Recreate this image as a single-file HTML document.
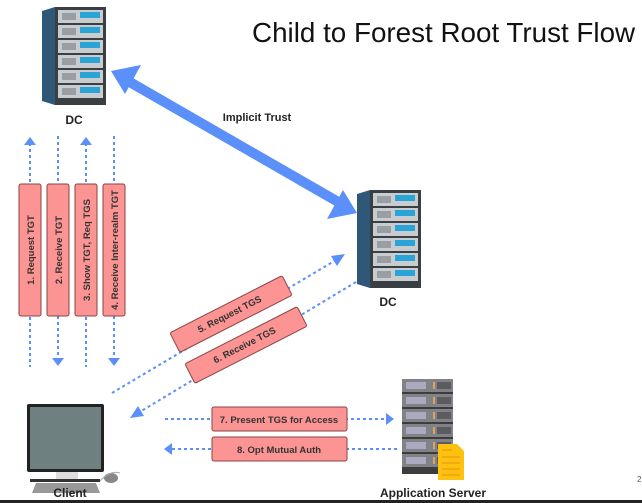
<!DOCTYPE html>
<html><head><meta charset="utf-8"><style>
html,body{margin:0;padding:0;background:#fff;}
svg{display:block;font-family:"Liberation Sans",sans-serif;}
</style></head><body>
<svg width="642" height="503" viewBox="0 0 642 503" xmlns="http://www.w3.org/2000/svg">
<defs>
<g id="rack">
  <polygon points="0,4 13,0 13,98 0,94" fill="#2f5878"/>
  <rect x="13" y="0" width="51" height="98" fill="#3a3f44"/>
  <g id="unit"><rect x="16" y="3" width="45" height="13" fill="#c9cccf"/><rect x="20" y="6" width="14" height="7" fill="#9a9ea2"/><rect x="38" y="5" width="20" height="6" fill="#2aa3d6"/></g>
  <use href="#unit" y="15"/><use href="#unit" y="30"/><use href="#unit" y="45"/><use href="#unit" y="60"/><use href="#unit" y="75"/>
</g>
<g id="appunit"><rect x="0" y="0" width="51" height="13" fill="#808285"/><rect x="4" y="3" width="20" height="7" fill="#a9a9c0"/><rect x="31" y="3" width="2" height="7" fill="#e0a060"/><rect x="35" y="3" width="14" height="7" fill="#5a5c60"/></g>
</defs>

<text x="252" y="42" font-size="27.8" fill="#111">Child to Forest Root Trust Flow</text>

<use href="#rack" x="42" y="7"/>
<text x="74" y="124" font-size="12" font-weight="bold" text-anchor="middle" fill="#222">DC</text>
<use href="#rack" x="357" y="190"/>
<text x="388" y="306" font-size="12" font-weight="bold" text-anchor="middle" fill="#222">DC</text>

<line x1="128" y1="81" x2="340" y2="203" stroke="#5b8ff9" stroke-width="10"/>
<polygon points="111,71 141,65 125,94" fill="#5b8ff9"/>
<polygon points="357,213 327,219 343,190" fill="#5b8ff9"/>
<text x="257" y="121" font-size="11" font-weight="bold" text-anchor="middle" fill="#222">Implicit Trust</text>

<g stroke="#5b8ff9" stroke-width="2" stroke-dasharray="3,3" fill="none">
<line x1="30" y1="143" x2="30" y2="367"/>
<line x1="58" y1="136" x2="58" y2="358"/>
<line x1="86" y1="143" x2="86" y2="367"/>
<line x1="114" y1="136" x2="114" y2="358"/>
</g>
<g fill="#5b8ff9">
<polygon points="30,137 24,145 36,145"/>
<polygon points="86,137 80,145 92,145"/>
<polygon points="58,366 52,358 64,358"/>
<polygon points="114,366 108,358 120,358"/>
</g>
<g fill="#fc9494" stroke="#8a4444" stroke-width="1">
<rect x="19" y="184" width="22" height="132" rx="2"/>
<rect x="47" y="184" width="22" height="132" rx="2"/>
<rect x="75" y="184" width="22" height="132" rx="2"/>
<rect x="103" y="184" width="22" height="132" rx="2"/>
</g>
<g font-size="9.5" font-weight="bold" fill="#333" text-anchor="middle">
<text transform="translate(34,250) rotate(-90)">1. Request TGT</text>
<text transform="translate(62,250) rotate(-90)">2. Receive TGT</text>
<text transform="translate(90,250) rotate(-90)">3. Show TGT, Req TGS</text>
<text transform="translate(118,250) rotate(-90)">4. Receive Inter-realm TGT</text>
</g>

<g stroke="#5b8ff9" stroke-width="2" stroke-dasharray="3,3" fill="none">
<line x1="112" y1="393" x2="336" y2="260"/>
<line x1="356" y1="282" x2="138" y2="413"/>
</g>
<g fill="#5b8ff9">
<polygon points="345,254 331,256 337,266"/>
<polygon points="130,418 144,416 138,406"/>
</g>
<g fill="#fc9494" stroke="#8a4444" stroke-width="1">
<rect x="-63" y="-11" width="126" height="22" rx="2" transform="translate(231,314) rotate(-27)"/>
<rect x="-63" y="-11" width="126" height="22" rx="2" transform="translate(246,345) rotate(-27)"/>
</g>
<g font-size="9.5" font-weight="bold" fill="#333" text-anchor="middle">
<text transform="translate(231,317) rotate(-27)">5. Request TGS</text>
<text transform="translate(246,348) rotate(-27)">6. Receive TGS</text>
</g>

<g stroke="#5b8ff9" stroke-width="2" stroke-dasharray="3,3" fill="none">
<line x1="165" y1="419" x2="386" y2="419"/>
<line x1="172" y1="449" x2="398" y2="449"/>
</g>
<g fill="#5b8ff9">
<polygon points="394,419 386,413 386,425"/>
<polygon points="164,449 172,443 172,455"/>
</g>
<g fill="#fc9494" stroke="#8a4444" stroke-width="1">
<rect x="212" y="407" width="135" height="24" rx="2"/>
<rect x="212" y="437" width="135" height="24" rx="2"/>
</g>
<g font-size="9.5" font-weight="bold" fill="#333" text-anchor="middle">
<text x="279" y="423">7. Present TGS for Access</text>
<text x="279" y="453">8. Opt Mutual Auth</text>
</g>

<rect x="27" y="404" width="77" height="68" rx="2" fill="#222"/>
<rect x="30" y="407" width="71" height="62" fill="#6f8080"/>
<rect x="56" y="472" width="22" height="7" fill="#ddd"/>
<rect x="30" y="479" width="70" height="3" fill="#333"/>
<polygon points="36,483 96,483 100,493 32,493" fill="#999"/>
<ellipse cx="111" cy="478" rx="7" ry="5" fill="#888"/>
<path d="M100,481 Q110,470 120,473" stroke="#aaa" fill="none"/>
<text x="70" y="497" font-size="12" font-weight="bold" text-anchor="middle" fill="#222">Client</text>

<rect x="402" y="379" width="51" height="95" fill="#3d3d3d"/>
<use href="#appunit" x="402" y="379"/><use href="#appunit" x="402" y="394"/><use href="#appunit" x="402" y="409"/><use href="#appunit" x="402" y="424"/><use href="#appunit" x="402" y="439"/><use href="#appunit" x="402" y="454"/>
<polygon points="438,444 457,444 464,451 464,480 438,480" fill="#fdc10f"/>
<g stroke="#f39a12" stroke-width="1.3"><line x1="442" y1="450" x2="452" y2="450"/><line x1="442" y1="457" x2="460" y2="457"/><line x1="442" y1="463" x2="460" y2="463"/><line x1="442" y1="469" x2="460" y2="469"/><line x1="442" y1="475" x2="460" y2="475"/></g>
<text x="433" y="497" font-size="12" font-weight="bold" text-anchor="middle" fill="#222">Application Server</text>
<text x="637" y="482" font-size="8" fill="#555">2</text>

<rect x="0" y="500" width="642" height="3" fill="#222"/>
</svg>
</body></html>
